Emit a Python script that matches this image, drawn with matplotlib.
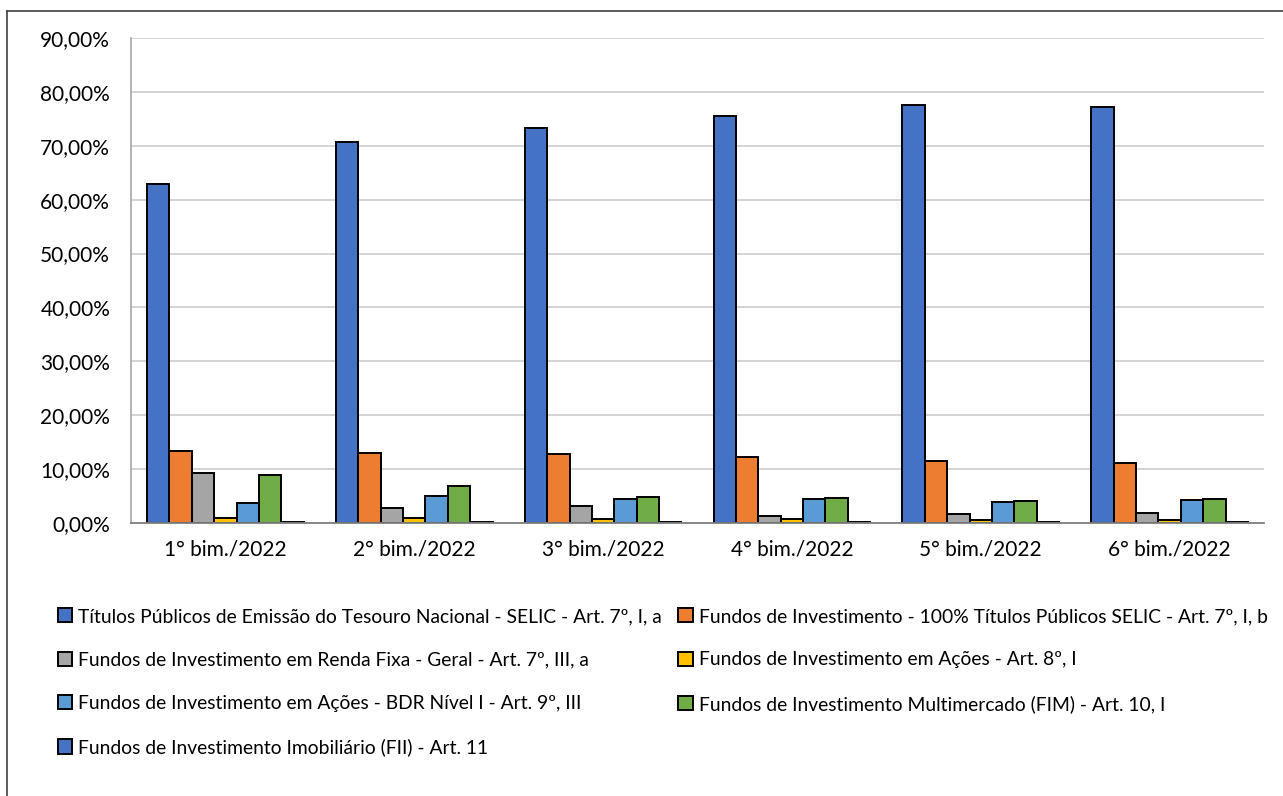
import matplotlib
matplotlib.use("Agg")
import matplotlib.pyplot as plt
from matplotlib.patches import Patch
from matplotlib.lines import Line2D
from matplotlib.ticker import FuncFormatter
import numpy as np

plt.rcParams['font.family'] = ['Lato', 'DejaVu Sans']

categories = ["1° bim./2022", "2° bim./2022", "3° bim./2022",
              "4° bim./2022", "5° bim./2022", "6° bim./2022"]

series_names = [
    "Títulos Públicos de Emissão do Tesouro Nacional - SELIC - Art. 7º, I, a",
    "Fundos de Investimento - 100% Títulos Públicos SELIC - Art. 7º, I, b",
    "Fundos de Investimento em Renda Fixa - Geral - Art. 7º, III, a",
    "Fundos de Investimento em Ações - Art. 8º, I",
    "Fundos de Investimento em Ações - BDR Nível I - Art. 9º, III",
    "Fundos de Investimento Multimercado (FIM) - Art. 10, I",
    "Fundos de Investimento Imobiliário (FII) - Art. 11",
]

titulos_publicos = [0.629, 0.707, 0.733, 0.755, 0.775, 0.772]
fi_100_titulos = [0.134, 0.130, 0.128, 0.123, 0.1145, 0.111]
fi_renda_fixa = [0.093, 0.027, 0.0315, 0.0135, 0.016, 0.019]
fi_acoes = [0.009, 0.009, 0.0075, 0.007, 0.0055, 0.006]
fi_bdr = [0.038, 0.050, 0.045, 0.045, 0.039, 0.043]
fi_multimercado = [0.0885, 0.069, 0.048, 0.047, 0.041, 0.0445]
fi_imobiliario = [0.001, 0.001, 0.001, 0.001, 0.001, 0.001]

series_values = [titulos_publicos, fi_100_titulos, fi_renda_fixa, fi_acoes,
                 fi_bdr, fi_multimercado, fi_imobiliario]
colors = ["#4472C4", "#ED7D31", "#A5A5A5", "#FFC000", "#5B9BD5", "#70AD47", "#4472C4"]

W, H = 1283, 796
fig = plt.figure(figsize=(W / 100, H / 100), dpi=100)
ax = fig.add_axes([131 / W, 1 - 523 / H, (1264 - 131) / W, (523 - 38) / H])

x = np.arange(len(categories))
bw = 0.1185
n = len(series_values)
for i, (vals, col) in enumerate(zip(series_values, colors)):
    ax.bar(x + (i - (n - 1) / 2) * bw, vals, width=bw, color=col,
           edgecolor="black", linewidth=1.4, zorder=3)

ax.set_xlim(-0.5, len(categories) - 0.5)
ax.set_ylim(0, 0.9)
ax.set_yticks(np.arange(0, 0.91, 0.1))
ax.yaxis.set_major_formatter(FuncFormatter(lambda v, p: f"{v*100:.2f}%".replace(".", ",")))
ax.set_xticks(x)
ax.set_xticklabels(categories)
ax.tick_params(axis="both", length=0, labelsize=15, colors="black")
ax.tick_params(axis="y", pad=15)
ax.tick_params(axis="x", pad=12)
ax.grid(axis="y", color="#D0D0D0", linewidth=1.3, zorder=0)
for s in ["top", "right"]:
    ax.spines[s].set_visible(False)
ax.spines["left"].set_color("#A6A6A6")
ax.spines["left"].set_linewidth(1.2)
ax.spines["bottom"].set_color("#808080")
ax.spines["bottom"].set_linewidth(1.3)
ax.spines["bottom"].set_zorder(4)

handles = [Patch(facecolor=c, edgecolor="black", linewidth=1.4) for c in colors]
order = [0, 2, 4, 6, 1, 3, 5]
leg = fig.legend([handles[i] for i in order], [series_names[i] for i in order],
                 ncol=2, loc="upper left", bbox_to_anchor=(58 / W, 1 - 608 / H),
                 frameon=False, fontsize=13.9, handlelength=0.75, handleheight=0.75,
                 handletextpad=0.3, labelspacing=1.37, columnspacing=0.85,
                 borderaxespad=0, borderpad=0)

fig.add_artist(Line2D([7 / W, 1], [1 - 11 / H, 1 - 11 / H], color="#404040", linewidth=1.2))
fig.add_artist(Line2D([7 / W, 7 / W], [0, 1 - 11 / H], color="#404040", linewidth=1.2))

fig.savefig("out.png", dpi=100)
